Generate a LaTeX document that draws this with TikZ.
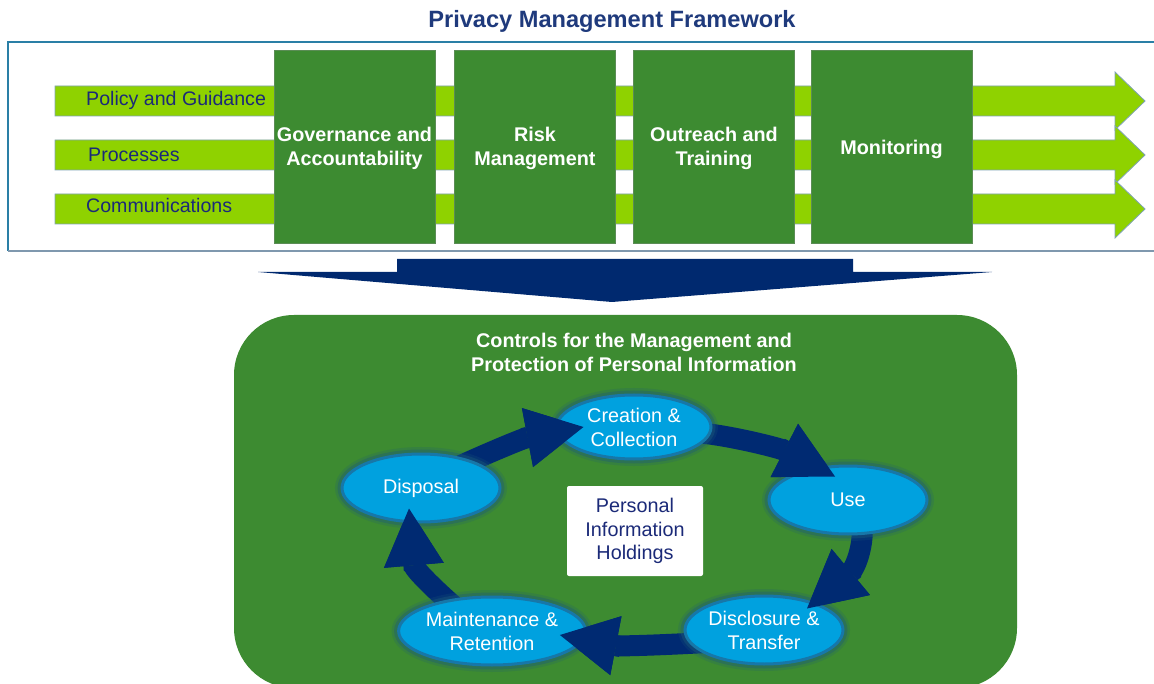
\documentclass[tikz,border=0pt]{standalone}
\usepackage{fontspec}
\setmainfont{Liberation Sans}
\usetikzlibrary{shapes.geometric,arrows.meta,calc}

\definecolor{titlenavy}{HTML}{1F3A7C}
\definecolor{labelnavy}{HTML}{1B2A78}
\definecolor{framelineA}{HTML}{2A7FA6}
\definecolor{framelineB}{HTML}{7F98AE}
\definecolor{barlime}{HTML}{8FD200}
\definecolor{barrim}{HTML}{7FA3B5}
\definecolor{pillargreen}{HTML}{3D8B31}
\definecolor{pillarrim}{HTML}{5B8C55}
\definecolor{bignavy}{HTML}{00296F}
\definecolor{flownavy}{HTML}{002A72}
\definecolor{stageblue}{HTML}{00A1DF}
\definecolor{stagerim}{HTML}{1777A8}
\definecolor{stageglow}{HTML}{1D5C78}

\pgfdeclarelayer{backdrop}
\pgfdeclarelayer{bands}
\pgfdeclarelayer{heads}
\pgfsetlayers{backdrop,bands,main,heads}

\begin{document}
\begin{tikzpicture}[x=1pt,y=-1pt,
  lime bar/.style={fill=barlime, draw=barrim, line width=0.8pt},
  bar label/.style={anchor=base west, text=labelnavy, inner sep=0pt,
    font=\fontsize{19.6}{23}\selectfont},
  pillar/.style={fill=pillargreen, draw=pillarrim, line width=0.7pt,
    minimum width=161pt, minimum height=193pt, inner sep=0pt},
  pillar text/.style={inner sep=0pt, text=white, align=center,
    font=\bfseries\fontsize{19.8}{24}\selectfont},
  stage/.style={ellipse, fill=stageblue, draw=stagerim, line width=3pt,
    minimum width=158pt, minimum height=68pt, inner sep=0pt,
    text=white, align=center, font=\fontsize{19.8}{24}\selectfont,
    preaction={draw=stageglow, line width=14pt, opacity=0.2},
    preaction={draw=stageglow, line width=9pt, opacity=0.4}},
  flow/.style={draw=flownavy, line width=21pt,
    -{Triangle[length=57pt,width=60pt,line width=0pt]}},
]
\useasboundingbox (0,0) rectangle (1154,684);

\begin{pgfonlayer}{backdrop}
  % title
  \node[text=titlenavy, font=\bfseries\fontsize{23.6}{28}\selectfont] (title) at (612,21) {Privacy Management Framework};

  % frame of the upper panel
  \draw[framelineA, line width=1.2pt] (1160,42) -- (8,42) -- (8,251);
  \draw[framelineB, line width=1.2pt] (8,251) -- (1160,251);

  % three lime arrows
  \foreach \yc in {101,155,209}
    \draw[lime bar] (55,\yc-15) -- (1115,\yc-15) -- (1115,\yc-29) -- (1145,\yc)
      -- (1115,\yc+29) -- (1115,\yc+15) -- (55,\yc+15) -- cycle;

  \node[bar label] (policy) at (86,106) {Policy and Guidance};
  \node[bar label] (proc) at (88,162) {Processes};
  \node[bar label] (comm) at (86,213) {Communications};

  % four pillars
  \node[pillar] (gov) at (354.5,146.5) {};
  \node[pillar] (risk) at (535,146.5) {};
  \node[pillar] (outr) at (714,146.5) {};
  \node[pillar] (mon) at (891.5,146.5) {};
  \node[pillar text] (govtxt) at ([shift={(0,2)}]gov.center) {Governance and\\Accountability};
  \node[pillar text] (risktxt) at ([shift={(0,2)}]risk.center) {Risk\\Management};
  \node[pillar text] (outrtxt) at ([shift={(0,2)}]outr.center) {Outreach and\\Training};
  \node[pillar text] (montxt) at ([shift={(0,3)}]mon.center) {Monitoring};

  % broad navy arrow
  \fill[bignavy] (397,259) -- (853,259) -- (853,272) -- (992,272) -- (612,302)
    -- (258,272) -- (397,272) -- cycle;

  % controls panel
  \fill[pillargreen, rounded corners=60pt] (234,315) rectangle (1017,688);
  \node[text=white, align=center, font=\bfseries\fontsize{19.8}{24}\selectfont] (ctitle) at (634,352)
    {Controls for the Management and\\Protection of Personal Information};
\end{pgfonlayer}

% lifecycle stages
\node[stage, minimum width=154pt, minimum height=64pt] (crea) at (634,427) {Creation \&\\Collection};
\node[stage] (use) at (848,500) {Use};
\node[stage] (disc) at (764,630) {Disclosure \&\\Transfer};
\node[stage] (mnt) at (492,631) {Maintenance \&\\Retention};
\node[stage] (disp) at (421,488) {Disposal};

\node[fill=white, rounded corners=2pt, minimum width=136pt, minimum height=90pt, inner sep=0pt,
  text=labelnavy, align=center, font=\fontsize{19.8}{23.5}\selectfont] (pih) at (635,531)
  {Personal\\Information\\Holdings};

% arrow tips of the cycle
\coordinate (t1) at ([shift={(28,0)}]crea.west);
\coordinate (t2) at ([shift={(-13,12)}]use.north);
\coordinate (t3) at ([shift={(43,14)}]disc.north);
\coordinate (t4) at ([shift={(-27,4)}]mnt.east);
\coordinate (t5) at ([shift={(-12,-15)}]disp.south);

% bands run beneath the stages
\begin{pgfonlayer}{bands}
  \draw[flow] ([shift={(30,-18)}]disp.center) .. controls +(30,-14) and +(-61,11.5) .. (t1);
  \draw[flow] ([shift={(56,5)}]crea.center) .. controls +(35,2) and +(-55,-28.3) .. (t2);
  \draw[flow] ([shift={(14,25)}]use.center) .. controls +(2,22) and +(47.6,-39.7) .. (t3);
  \draw[flow] ([shift={(-50,12)}]disc.center) .. controls +(-30,2) and +(61,11.6) .. (t4);
  \draw[flow] ([shift={(-30,-18)}]mnt.center) .. controls +(-15,-12) and +(5.3,61.8) .. (t5);
\end{pgfonlayer}

% heads lie over the stage they point to
\begin{pgfonlayer}{heads}
  \draw[flow] ([shift={(-61,11.5)}]t1) -- (t1);
  \draw[flow] ([shift={(-55,-28.3)}]t2) -- (t2);
  \draw[flow] ([shift={(47.6,-39.7)}]t3) -- (t3);
  \draw[flow] ([shift={(61,11.6)}]t4) -- (t4);
  \draw[flow] ([shift={(5.3,61.8)}]t5) -- (t5);
\end{pgfonlayer}
\end{tikzpicture}
\end{document}
